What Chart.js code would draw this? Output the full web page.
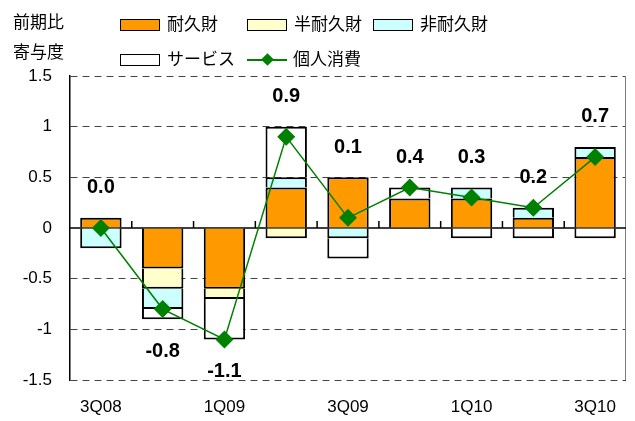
<!DOCTYPE html>
<html>
<head>
<meta charset="utf-8">
<script src="https://cdn.jsdelivr.net/npm/chart.js@4.4.1/dist/chart.umd.min.js"></script>
<style>
body { margin: 0; background: #fff; }
#wrap { position: relative; width: 635px; height: 421px; font-family: Arial, "Liberation Sans", "Noto Sans CJK JP", sans-serif; color: #000; }
#chart { position: absolute; left: 0; top: 0; }
.ttl { position: absolute; left: 13px; font-size: 17px; line-height: 20px; }
.leg { position: absolute; display: flex; align-items: center; font-size: 17px; line-height: 20px; height: 20px; white-space: nowrap; }
.box { width: 38px; height: 10px; border: 1px solid #000; margin-right: 7px; }
.sym { position: relative; width: 40px; height: 14px; margin-right: 6px; }
.sym .ln { position: absolute; left: 0; right: 0; top: 6px; height: 2px; background: #008000; }
.sym .dm { position: absolute; left: 16px; top: 2px; width: 9px; height: 9px; background: #008000; transform: rotate(45deg); }
</style>
</head>
<body>
<div id="wrap">
  <canvas id="chart" width="635" height="421"></canvas>
  <div class="ttl" style="top:13px">前期比</div>
  <div class="ttl" style="top:43px">寄与度</div>
  <div id="legend"></div>
</div>
<script>
// data //
const quarters = ['3Q08', '4Q08', '1Q09', '2Q09', '3Q09', '4Q09', '1Q10', '2Q10', '3Q10'];
const durable = [0.1, -0.4, -0.6, 0.4, 0.5, 0.29, 0.29, 0.1, 0.7];
const semiDurable = [0, -0.2, -0.1, -0.1, 0, 0, 0, 0, 0];
const nonDurable = [-0.2, -0.2, 0, 0.1, -0.1, 0, 0.11, 0.1, 0.1];
const services = [0, -0.1, -0.4, 0.5, -0.2, 0.11, -0.1, -0.1, -0.1];
const consumption = [0.0, -0.8, -1.1, 0.9, 0.1, 0.4, 0.3, 0.2, 0.7];
const yTicks = [-1.5, -1, -0.5, 0, 0.5, 1, 1.5];

const barSeries = [
    { name: '耐久財', values: durable, color: '#FF9900' },
    { name: '半耐久財', values: semiDurable, color: '#FFFFCC' },
    { name: '非耐久財', values: nonDurable, color: '#CCFFFF' },
    { name: 'サービス', values: services, color: '#FFFFFF' }
];
const lineName = '個人消費';

// legend (html) //
const legend = document.getElementById('legend');
const legendSlots = [[120, 15], [247, 15], [373, 15], [120, 50], [247, 50]];
barSeries.forEach(function (s, i) {
    let div = document.createElement('div');
    div.className = 'leg';
    div.style.left = legendSlots[i][0] + 'px';
    div.style.top = legendSlots[i][1] + 'px';
    div.innerHTML = '<span class="box" style="background:' + s.color + '"></span>' + s.name;
    legend.appendChild(div);
});
let lineItem = document.createElement('div');
lineItem.className = 'leg';
lineItem.style.left = legendSlots[4][0] + 'px';
lineItem.style.top = legendSlots[4][1] + 'px';
lineItem.innerHTML = '<span class="sym"><span class="ln"></span><span class="dm"></span></span>' + lineName;
legend.appendChild(lineItem);

// zero line, frame, value labels //
const extras = {
    id: 'extras',
    beforeDatasetsDraw(chart) {
        const { ctx, chartArea: a, scales: { x, y } } = chart;
        const y0 = y.getPixelForValue(0);
        ctx.save();
        ctx.strokeStyle = '#808080';
        ctx.lineWidth = 1;
        ctx.beginPath();
        ctx.moveTo(a.right - 0.5, a.top);
        ctx.lineTo(a.right - 0.5, a.bottom);
        ctx.stroke();
        ctx.strokeStyle = '#000';
        ctx.lineWidth = 1.5;
        ctx.beginPath();
        ctx.moveTo(a.left, y0);
        ctx.lineTo(a.right, y0);
        for (let i = 1; i < quarters.length; i++) {
            const bx = (x.getPixelForValue(i - 1) + x.getPixelForValue(i)) / 2;
            ctx.moveTo(bx, y0);
            ctx.lineTo(bx, y0 - 7);
        }
        ctx.stroke();
        ctx.restore();
    },
    afterDatasetsDraw(chart) {
        const { ctx, scales: { x, y } } = chart;
        ctx.save();
        ctx.font = 'bold 20px Arial, "Liberation Sans", sans-serif';
        ctx.fillStyle = '#000';
        ctx.textAlign = 'center';
        ctx.textBaseline = 'middle';
        for (let i = 0; i < quarters.length; i++) {
            let pos = 0, neg = 0;
            barSeries.forEach(function (s) {
                if (s.values[i] > 0) pos += s.values[i]; else neg += s.values[i];
            });
            const v = consumption[i];
            const ty = v >= 0 ? y.getPixelForValue(pos) - 30 : y.getPixelForValue(neg) + 32;
            ctx.fillText(v.toFixed(1), x.getPixelForValue(i), ty);
        }
        ctx.restore();
    }
};

const datasets = barSeries.map(function (s) {
    return {
        type: 'bar',
        label: s.name,
        // empty segments are left out so they draw no border
        data: s.values.map(v => v === 0 ? null : v),
        backgroundColor: s.color,
        borderColor: '#000',
        borderWidth: 2,
        borderSkipped: 'start',
        categoryPercentage: 1,
        barPercentage: 0.67,
        order: 1
    };
});
datasets.push({
    type: 'line',
    label: lineName,
    data: consumption,
    stack: 'line',
    borderColor: '#008000',
    borderWidth: 1.5,
    pointStyle: 'rectRot',
    pointRadius: 9,
    pointBackgroundColor: '#008000',
    pointBorderColor: '#008000',
    pointBorderWidth: 0,
    tension: 0,
    order: 0
});

new Chart(document.getElementById('chart'), {
    data: { labels: quarters, datasets: datasets },
    plugins: [extras],
    options: {
        responsive: false,
        animation: false,
        events: [],
        layout: { padding: { top: 76, right: 8, left: 0, bottom: 0 } },
        plugins: {
            legend: { display: false },
            tooltip: { enabled: false }
        },
        scales: {
            x: {
                stacked: true,
                offset: true,
                grid: { display: false, drawTicks: false },
                border: { display: false },
                afterFit: function (scale) { scale.height = 41; },
                ticks: {
                    padding: 17,
                    autoSkip: false,
                    maxRotation: 0,
                    color: '#000',
                    font: { family: 'Arial, "Liberation Sans", sans-serif', size: 17 },
                    callback: function (value, index) {
                        return index % 2 === 0 ? quarters[index] : '';
                    }
                }
            },
            y: {
                stacked: true,
                min: -1.5,
                max: 1.5,
                afterBuildTicks: function (scale) {
                    scale.ticks = yTicks.map(v => ({ value: v }));
                },
                afterFit: function (scale) { scale.width = 70; },
                grid: {
                    drawTicks: false,
                    color: function (c) { return c.tick && c.tick.value === 0 ? 'rgba(0,0,0,0)' : '#444'; },
                    lineWidth: 1
                },
                border: { display: true, color: '#000', width: 1.5, dash: [7, 5] },
                ticks: {
                    padding: 18,
                    color: '#000',
                    font: { family: 'Arial, "Liberation Sans", sans-serif', size: 17 },
                    callback: function (value) { return String(value); }
                }
            }
        }
    }
});
</script>
</body>
</html>
